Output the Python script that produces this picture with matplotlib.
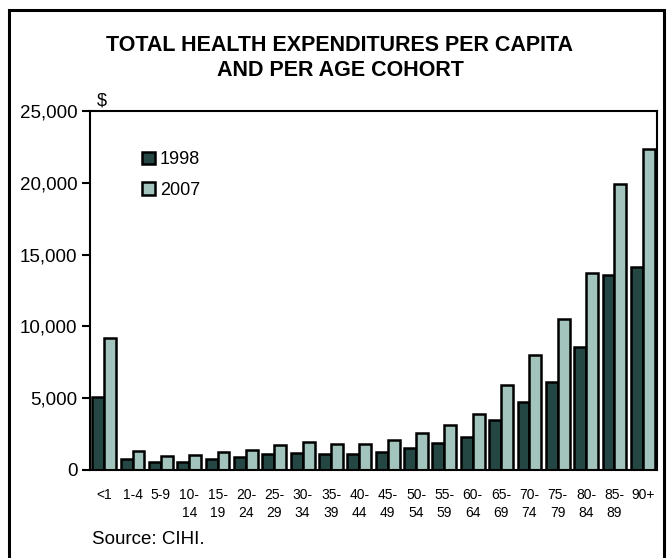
import numpy as np
import matplotlib
matplotlib.use("Agg")
import matplotlib.pyplot as plt
from matplotlib.patches import Rectangle, Patch

# =========================
# DATOS
# =========================
grupos = ["<1", "1-4", "5-9", "10-\n14", "15-\n19", "20-\n24", "25-\n29", "30-\n34",
          "35-\n39", "40-\n44", "45-\n49", "50-\n54", "55-\n59", "60-\n64", "65-\n69",
          "70-\n74", "75-\n79", "80-\n84", "85-\n89", "90+"]
gasto_1998 = [5100, 800, 550, 550, 780, 900, 1100, 1200, 1100, 1100, 1250, 1500,
              1850, 2300, 3450, 4750, 6150, 8550, 13550, 14150]
gasto_2007 = [9200, 1300, 1000, 1050, 1250, 1400, 1750, 1950, 1800, 1800, 2100, 2550,
              3150, 3900, 5950, 8000, 10500, 13700, 19950, 22350]
yticks = [0, 5000, 10000, 15000, 20000, 25000]

COLOR_1998 = "#244744"
COLOR_2007 = "#a2c4bc"

plt.rcParams["font.family"] = ["Liberation Sans", "DejaVu Sans"]

fig = plt.figure(figsize=(6.68, 5.58), dpi=100)
ax = fig.add_axes([90 / 668, 1 - 470 / 558, (657 - 90) / 668, (470 - 111) / 558])

x = np.arange(len(grupos))
w = 0.42
ax.bar(x - w / 2, gasto_1998, w, color=COLOR_1998, edgecolor="black", linewidth=1.8)
ax.bar(x + w / 2, gasto_2007, w, color=COLOR_2007, edgecolor="black", linewidth=1.8)

ax.set_xlim(-0.5, len(grupos) - 0.5)
ax.set_ylim(0, 25000)
ax.set_yticks(yticks)
ax.set_yticklabels([f"{v:,}" for v in yticks], fontsize=13.5)
ax.set_xticks(x)
ax.set_xticklabels(grupos, fontsize=10, linespacing=1.35, va="top")
ax.tick_params(axis="x", length=0, pad=13)
ax.tick_params(axis="y", direction="out", length=6, width=1.5, pad=3)
for s in ax.spines.values():
    s.set_linewidth(1.5)

ax.text(0.012, 1.004, "$", transform=ax.transAxes, fontsize=13, ha="left", va="bottom")

handles = [Patch(facecolor=COLOR_1998, edgecolor="black", linewidth=1.8),
           Patch(facecolor=COLOR_2007, edgecolor="black", linewidth=1.8)]
ax.legend(handles, ["1998", "2007"], loc="upper left", bbox_to_anchor=(0.079, 0.908),
          frameon=False, fontsize=13, handlelength=0.7, handleheight=0.7,
          handletextpad=0.3, labelspacing=0.75, borderaxespad=0)

fig.text(340 / 668, 1 - 58 / 558, "TOTAL HEALTH EXPENDITURES PER CAPITA\nAND PER AGE COHORT",
         ha="center", va="center", fontsize=15.5, fontweight="bold", linespacing=1.2)
fig.text(92 / 668, 1 - 540 / 558, "Source: CIHI.", fontsize=13.5, ha="left", va="center")

# marco exterior (abierto por abajo)
fig.patches.append(Rectangle((8.5 / 668, -0.05), (664 - 8.5) / 668, 1.05 - 10.5 / 558,
                             transform=fig.transFigure, fill=False, edgecolor="black",
                             linewidth=2.2))

fig.savefig("out.png", dpi=100)
